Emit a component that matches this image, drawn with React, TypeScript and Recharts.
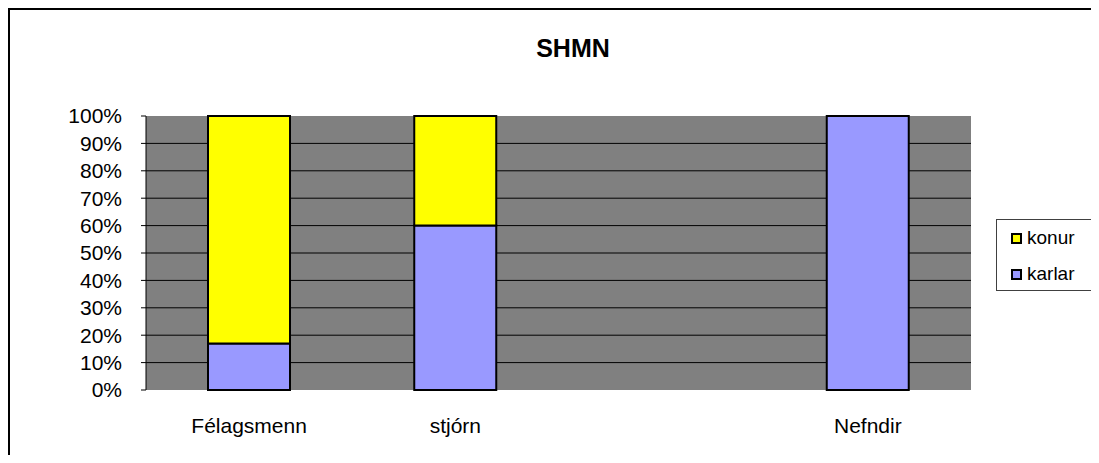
import {
  BarChart, Bar, XAxis, YAxis, CartesianGrid
} from 'recharts'

const categories = ['Félagsmenn', 'stjórn', '', 'Nefndir']
const karlar = [17, 60, null, 100]
const konur = [83, 40, null, 0]
const yTicks = [0, 10, 20, 30, 40, 50, 60, 70, 80, 90, 100]
const gridValues = [10, 20, 30, 40, 50, 60, 70, 80, 90]
const slotTicks = [0, 1, 2, 3, 4]
const legendItems = [
  { name: 'konur', color: '#ffff00' },
  { name: 'karlar', color: '#9999ff' },
]

const FONT = '"Liberation Sans", Arial, sans-serif'

const chartData = categories.map((name, i) => ({
  name,
  karlar: karlar[i],
  konur: konur[i],
}))

export default function App() {
  return (
    <div style={{
      position: 'relative', width: 1091, height: 447, boxSizing: 'border-box',
      borderTop: '2px solid #000', borderLeft: '2px solid #000', background: '#fff',
      overflow: 'hidden',
    }}>
      <div style={{
        position: 'absolute', left: 0, width: 1126, top: 24, textAlign: 'center',
        fontFamily: FONT, fontWeight: 'bold', fontSize: 25, color: '#000',
      }}>SHMN</div>
      <div style={{
        position: 'absolute', left: 986, top: 209, width: 94, height: 70,
        border: '1px solid #404040', background: '#fff',
        fontFamily: FONT, fontSize: 19, color: '#000',
      }}>
        {legendItems.map((p) => (
          <div key={p.name} style={{ height: 36, display: 'flex', alignItems: 'center', paddingLeft: 14 }}>
            <span style={{
              display: 'inline-block', width: 7, height: 7, border: '2px solid #000',
              background: p.color, marginRight: 5,
            }} />
            {p.name}
          </div>
        ))}
      </div>
      <BarChart
        width={1081}
        height={445}
        data={chartData}
        margin={{ top: 106, right: 120, left: 0, bottom: 0 }}
        barSize={82}
      >
        <CartesianGrid
          xAxisId="cat"
          vertical={false}
          horizontalValues={gridValues}
          stroke="#000"
          fill="#808080"
          fillOpacity={1}
        />
        <XAxis
          xAxisId="grid"
          type="number"
          domain={[0, 4]}
          ticks={slotTicks}
          height={0}
          tickSize={5}
          tickFormatter={() => ''}
          stroke="#000"
          tickLine={{ stroke: '#000' }}
          axisLine={{ stroke: '#000', strokeWidth: 1 }}
        />
        <XAxis
          xAxisId="cat"
          dataKey="name"
          height={65}
          axisLine={false}
          tickLine={false}
          tickSize={5}
          tickMargin={23}
          interval={0}
          tick={{ fontSize: 21, fill: '#000', fontFamily: FONT }}
        />
        <YAxis
          domain={[0, 100]}
          ticks={yTicks}
          width={136}
          tickSize={5}
          tickMargin={19}
          interval={0}
          tickFormatter={(v: number) => `${v}%`}
          tick={{ fontSize: 21, fill: '#000', fontFamily: FONT }}
          axisLine={{ stroke: '#000' }}
          tickLine={{ stroke: '#000' }}
        />
        <Bar xAxisId="cat" dataKey="karlar" name="karlar" stackId="a" fill="#9999ff" stroke="#000" strokeWidth={2} isAnimationActive={false} />
        <Bar xAxisId="cat" dataKey="konur" name="konur" stackId="a" fill="#ffff00" stroke="#000" strokeWidth={2} isAnimationActive={false} />
      </BarChart>
    </div>
  )
}
